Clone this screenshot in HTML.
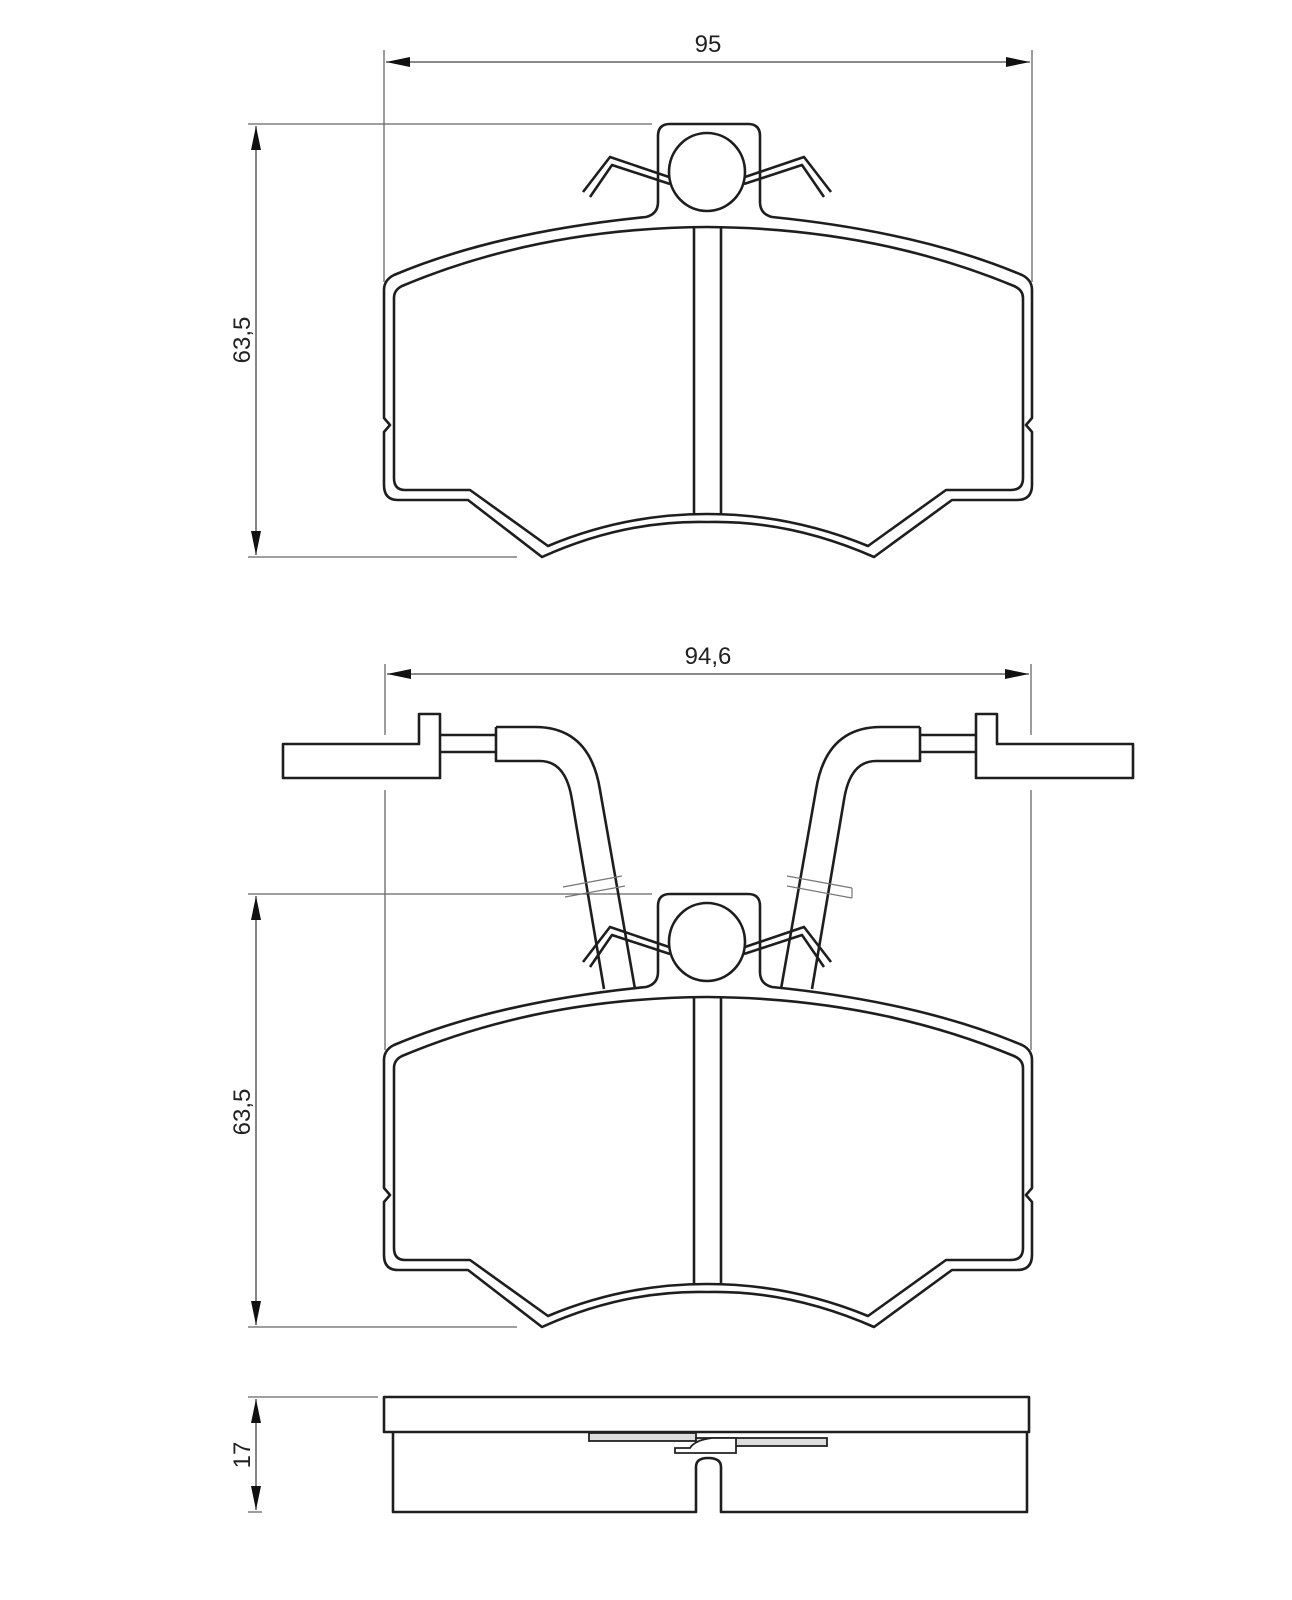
<!DOCTYPE html>
<html><head><meta charset="utf-8"><style>
html,body{margin:0;padding:0;background:#fff;}
svg{display:block;}
text{font-family:"Liberation Sans",sans-serif;fill:#222;}
</style></head><body>
<svg width="1292" height="1600" viewBox="0 0 1292 1600" xmlns="http://www.w3.org/2000/svg">
<defs>
<g id="pad" fill="none" stroke="#1e1e1e" stroke-width="2.6" stroke-linejoin="round">
  <!-- outer contour -->
  <path d="M646,217 Q658,214 658,202 L658,136 Q658,124 670,124 L748,124 Q760,124 760,136 L760,202 Q760,214 772,217 Q920,232 1022,275 Q1032,280 1032,290 L1032,418 L1026,425 L1032,432 L1032,485 Q1032,500 1017,500 L952,500 L874,557 Q790,520 707,522 Q624,520 542,557 L468,500 L398,500 Q384,500 384,485 L384,432 L390,425 L384,418 L384,290 Q384,280 394,275 Q496,232 646,217 Z"/>
  <!-- inner contour -->
  <path d="M394,298 Q394,290 402,286 Q540,228 707,227 Q874,228 1014,286 Q1023,290 1023,298 L1023,478 Q1023,490 1011,490 L946,490 L868,546 Q790,514 707,514 Q624,514 548,546 L470,490 L405,490 Q394,490 394,478 Z"/>
  <!-- slot -->
  <line x1="694" y1="228" x2="694" y2="515"/>
  <line x1="721" y1="228" x2="721" y2="515"/>
  <!-- circle -->
  <ellipse cx="707" cy="172" rx="38" ry="39" fill="#fff"/>
  <!-- springs -->
  <path d="M669,177 L610,157 L583,192"/>
  <path d="M670,184 L612,165 L590,197"/>
  <path d="M745,177 L804,157 L831,192"/>
  <path d="M744,184 L802,165 L824,197"/>
</g>
<marker id="ah" viewBox="0 0 24 10" refX="24" refY="5" markerWidth="24" markerHeight="10" markerUnits="userSpaceOnUse" orient="auto">
  <path d="M0,0 L24,5 L0,10 Z" fill="#111"/>
</marker>
</defs>

<!-- ===== Top drawing ===== -->
<g stroke="#666" stroke-width="1.3" fill="none">
  <line x1="384" y1="50" x2="384" y2="282"/>
  <line x1="1032" y1="50" x2="1032" y2="282"/>
  <line x1="248" y1="124" x2="652" y2="124"/>
  <line x1="248" y1="557" x2="517" y2="557"/>
</g>
<g stroke="#444" stroke-width="1.3" fill="none">
  <line x1="708" y1="62" x2="386" y2="62" marker-end="url(#ah)"/>
  <line x1="708" y1="62" x2="1030" y2="62" marker-end="url(#ah)"/>
  <line x1="256" y1="340" x2="256" y2="126" marker-end="url(#ah)"/>
  <line x1="256" y1="340" x2="256" y2="555" marker-end="url(#ah)"/>
</g>
<text x="708" y="52" font-size="24" text-anchor="middle">95</text>
<text transform="translate(250,340) rotate(-90)" font-size="24" text-anchor="middle">63,5</text>
<use href="#pad"/>

<!-- ===== Middle drawing ===== -->
<g stroke="#666" stroke-width="1.3" fill="none">
  <line x1="385" y1="664" x2="385" y2="735"/>
  <line x1="385" y1="790" x2="385" y2="1050"/>
  <line x1="1031" y1="664" x2="1031" y2="735"/>
  <line x1="1031" y1="790" x2="1031" y2="1050"/>
  <line x1="248" y1="894" x2="652" y2="894"/>
  <line x1="248" y1="1327" x2="517" y2="1327"/>
</g>
<g stroke="#444" stroke-width="1.3" fill="none">
  <line x1="708" y1="674" x2="387" y2="674" marker-end="url(#ah)"/>
  <line x1="708" y1="674" x2="1029" y2="674" marker-end="url(#ah)"/>
  <line x1="256" y1="1110" x2="256" y2="896" marker-end="url(#ah)"/>
  <line x1="256" y1="1110" x2="256" y2="1325" marker-end="url(#ah)"/>
</g>
<text x="708" y="664" font-size="24" text-anchor="middle">94,6</text>
<text transform="translate(250,1112) rotate(-90)" font-size="24" text-anchor="middle">63,5</text>

<!-- wire clips -->
<g fill="#fff" stroke="#1e1e1e" stroke-width="2.6" stroke-linejoin="round">
  <path d="M283,744 L419,744 L419,714 L440,714 L440,778 L283,778 Z"/>
  <path d="M1133,744 L997,744 L997,714 L976,714 L976,778 L1133,778 Z"/>
  <path d="M440,735 L496,735 M440,752 L496,752" fill="none"/>
  <path d="M976,735 L920,735 M976,752 L920,752" fill="none"/>
  <path d="M496,727 L535,727 Q590,727 600,790 L635,989 M496,727 L496,761 L540,761 Q566,761 572,800 L604,989" fill="none"/>
  <path d="M920,727 L881,727 Q826,727 816,790 L781,989 M920,727 L920,761 L876,761 Q850,761 844,800 L812,989" fill="none"/>
</g>
<g stroke="#777" stroke-width="1.2" fill="none">
  <path d="M563,887 L622,876 M565,897 L625,886"/>
  <path d="M787,876 L852,888 M787,886 L852,898 M852,888 L852,898"/>
</g>
<use href="#pad" y="770"/>

<!-- ===== Bottom drawing ===== -->
<g stroke="#666" stroke-width="1.3" fill="none">
  <line x1="248" y1="1397" x2="378" y2="1397"/>
  <line x1="248" y1="1512" x2="262" y2="1512"/>
</g>
<g stroke="#444" stroke-width="1.3" fill="none">
  <line x1="256" y1="1455" x2="256" y2="1399" marker-end="url(#ah)"/>
  <line x1="256" y1="1455" x2="256" y2="1510" marker-end="url(#ah)"/>
</g>
<text transform="translate(250,1455) rotate(-90)" font-size="24" text-anchor="middle">17</text>
<g fill="none" stroke="#1e1e1e" stroke-width="2.6" stroke-linejoin="round">
  <rect x="384" y="1397" width="645" height="35"/>
  <path d="M393,1432 L393,1512 L696,1512 L696,1467 Q696,1458 708,1458 Q721,1458 721,1467 L721,1512 L1027,1512 L1027,1432"/>
</g>
<g fill="#ddd" stroke="#222" stroke-width="1.8">
  <rect x="589" y="1433" width="107" height="8"/>
  <rect x="696" y="1438" width="131" height="8"/>
  <path d="M675,1453 L675,1448 L690,1448 Q695,1440 712,1438 L736,1438 L736,1453 Z" fill="#fff"/>
</g>
</svg>
</body></html>
